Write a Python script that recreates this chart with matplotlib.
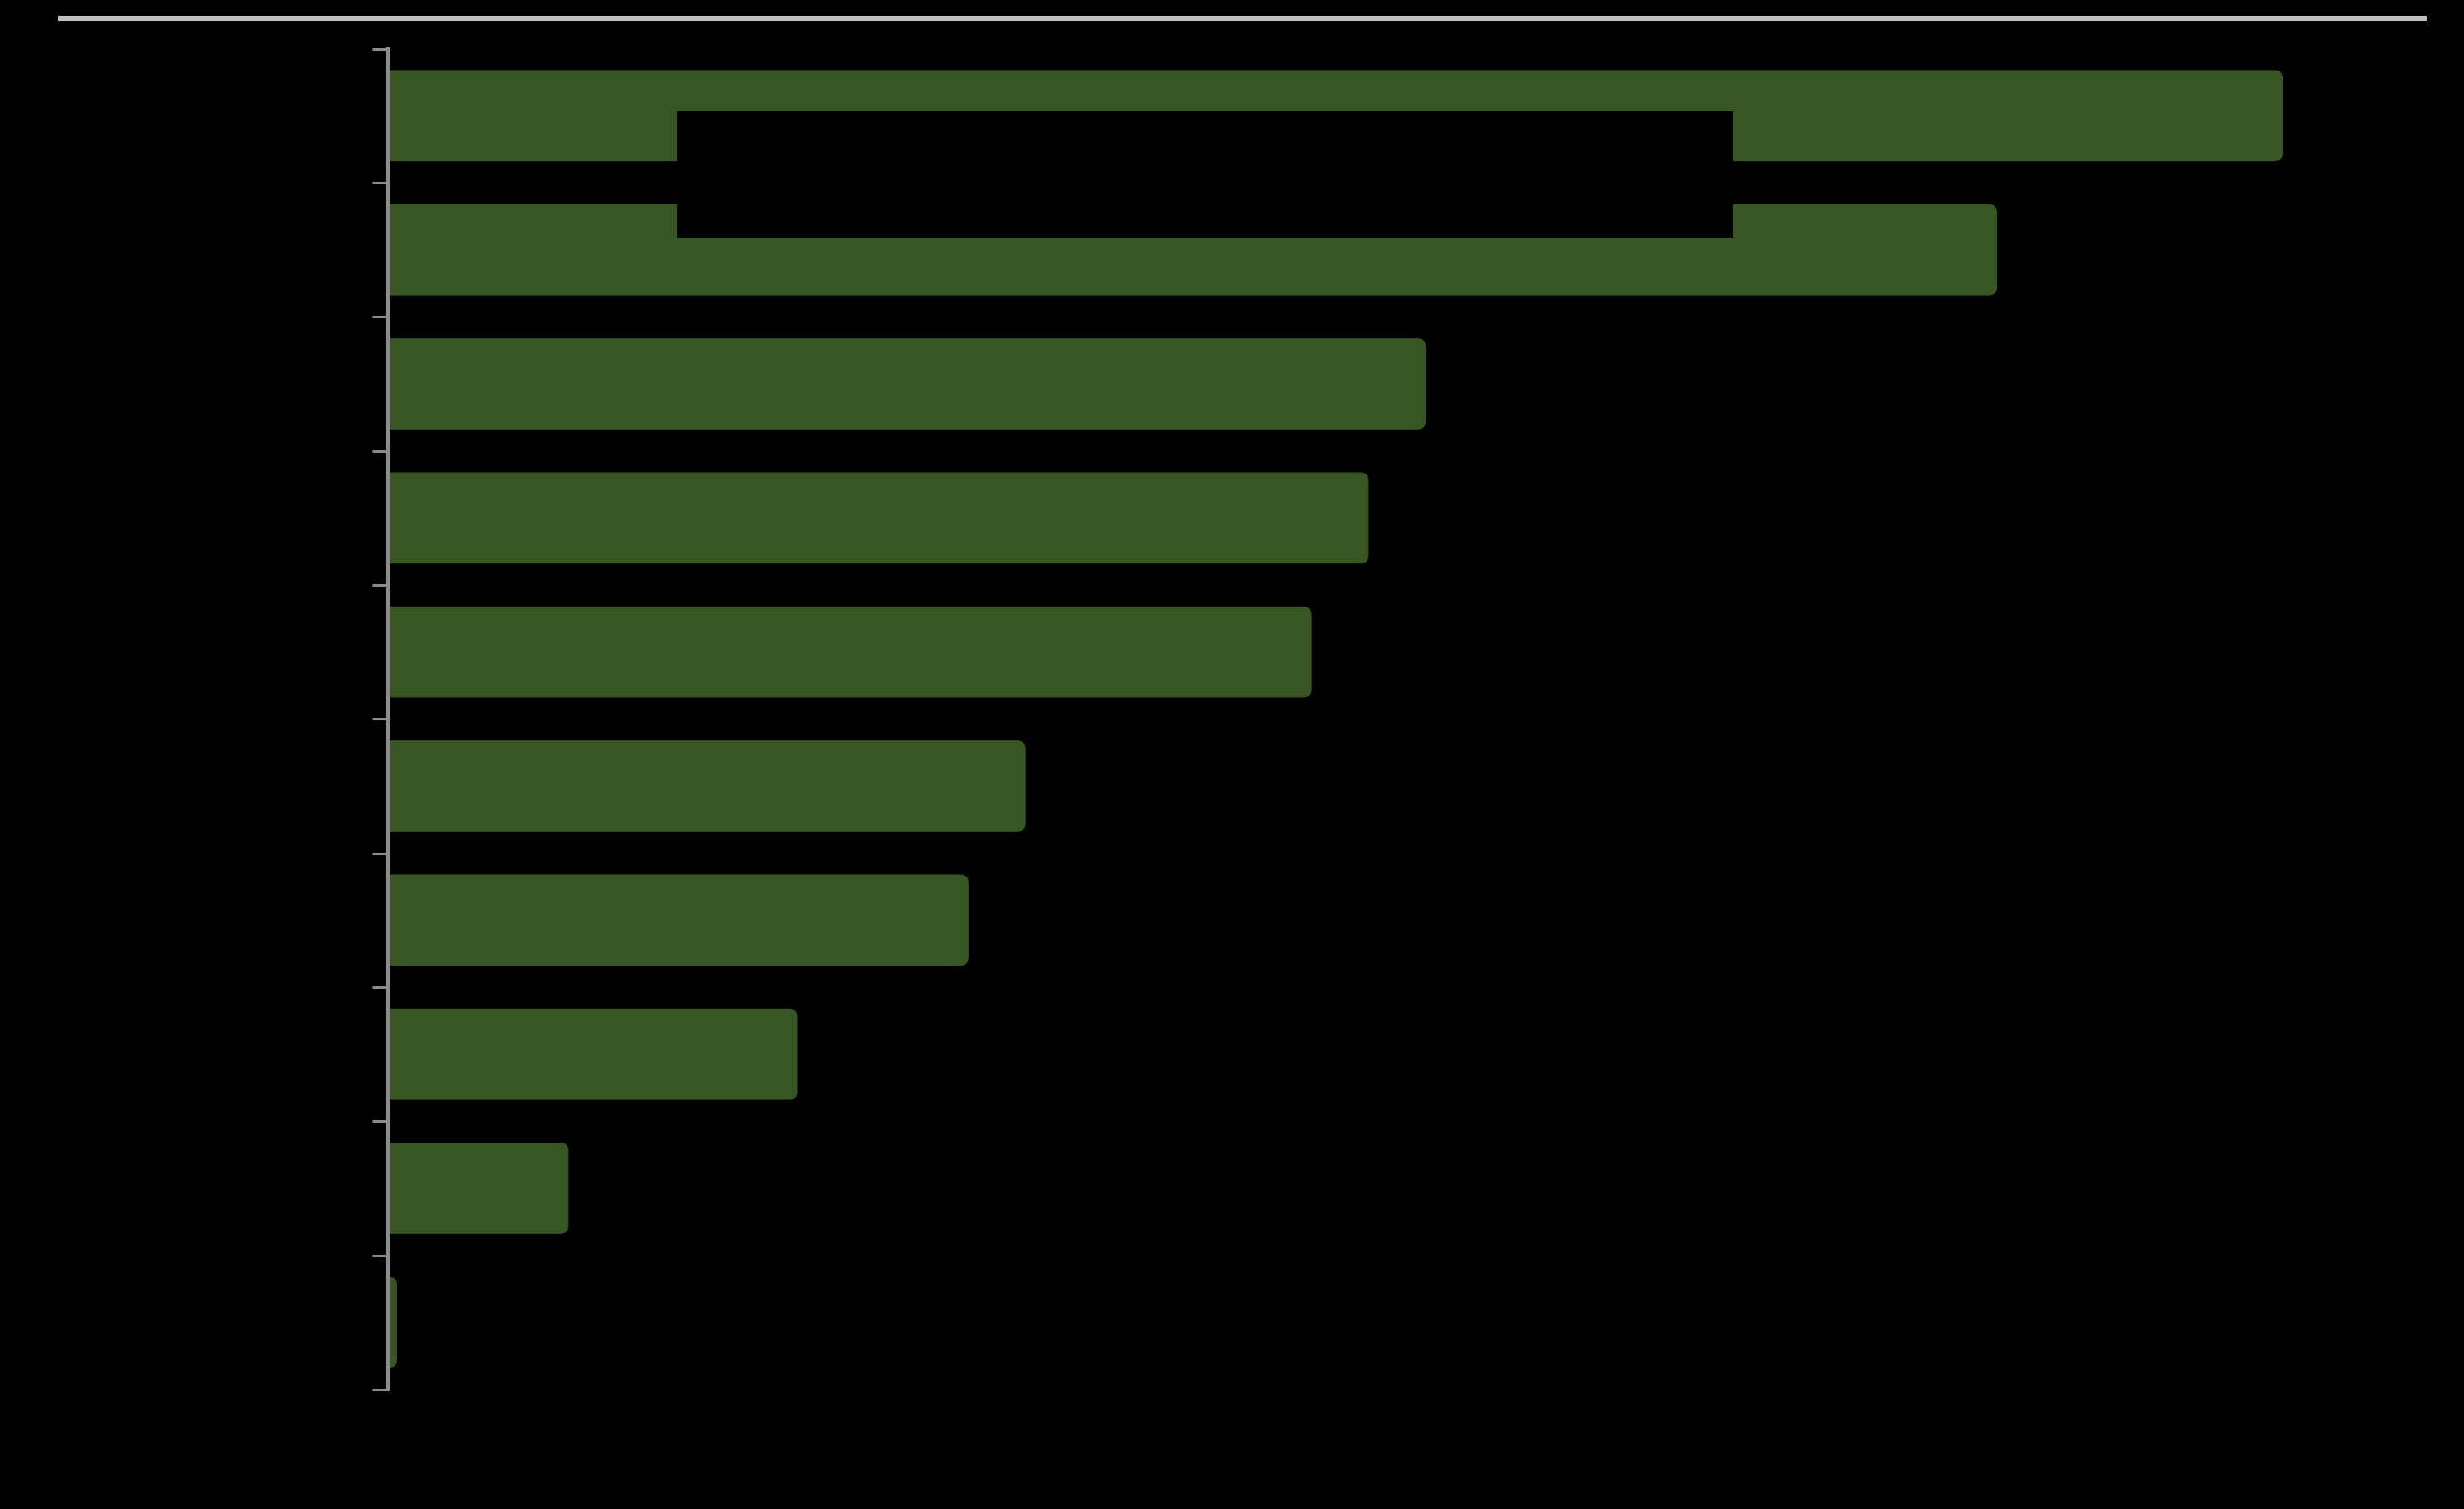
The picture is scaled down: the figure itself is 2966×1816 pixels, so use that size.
import matplotlib
matplotlib.use("Agg")
import matplotlib.pyplot as plt
from matplotlib.patches import FancyBboxPatch, Rectangle
from matplotlib.lines import Line2D

# ----------------------------
# Data (labels in the original are black on black, so none are readable)
# ----------------------------
categories = ["", "", "", "", "", "", "", "", "", ""]
values = [66, 56, 36, 34, 32, 22, 20, 14, 6, 0]

BAR_COLOR = "#375623"
AXIS_COLOR = "#8c8c8c"
RULE_COLOR = "#c0c0c0"
BG = "black"

W, H = 2966, 1816
X_MIN, X_MAX = -0.32, 71.0

fig = plt.figure(figsize=(W / 200, H / 200), dpi=200, facecolor=BG)
ax = fig.add_axes([467 / W, 0.0793, (2920 - 467) / W, 0.8884], facecolor=BG)

pos = list(range(len(values)))
bars = ax.barh(pos, values, height=0.68, color=BAR_COLOR)

ax.set_xlim(X_MIN, X_MAX)
ax.set_ylim(len(values) - 0.5, -0.5)

# rounded bars, drawn from the axis line; left rounding is clipped away
px_x = (X_MAX - X_MIN) / (2920 - 467)
px_y = 10 / (0.8884 * H)
aspect = px_y / px_x
r = 10 * px_x
for b in bars:
    x, y, w, h = b.get_x(), b.get_y(), b.get_width(), b.get_height()
    x0 = X_MIN - r
    patch = FancyBboxPatch((x0, y), x + w - x0, h,
                           boxstyle=f"round,pad=0,rounding_size={r}",
                           mutation_aspect=aspect, facecolor=BAR_COLOR,
                           edgecolor="none", clip_on=True)
    ax.add_patch(patch)
    b.set_visible(False)

ax.set_yticks([p - 0.5 for p in pos] + [len(values) - 0.5])
ax.set_yticklabels([])
ax.set_xticks([])
ax.tick_params(axis="y", length=7, width=1.1, color=AXIS_COLOR)
for side in ["top", "right", "bottom"]:
    ax.spines[side].set_visible(False)
ax.spines["left"].set_color(AXIS_COLOR)
ax.spines["left"].set_linewidth(1.5)
ax.spines["left"].set_zorder(5)

# top rule
fig.add_artist(Line2D([70 / W, 2921 / W], [1 - 22 / H, 1 - 22 / H],
                      color=RULE_COLOR, linewidth=2.2, solid_capstyle="butt"))

# black text box over the top bars
fig.add_artist(Rectangle((815 / W, 1 - 286 / H), (2086 - 815) / W, 152 / H,
                         facecolor=BG, edgecolor="none", zorder=10))

fig.savefig("out.png", dpi=200, facecolor=BG)
